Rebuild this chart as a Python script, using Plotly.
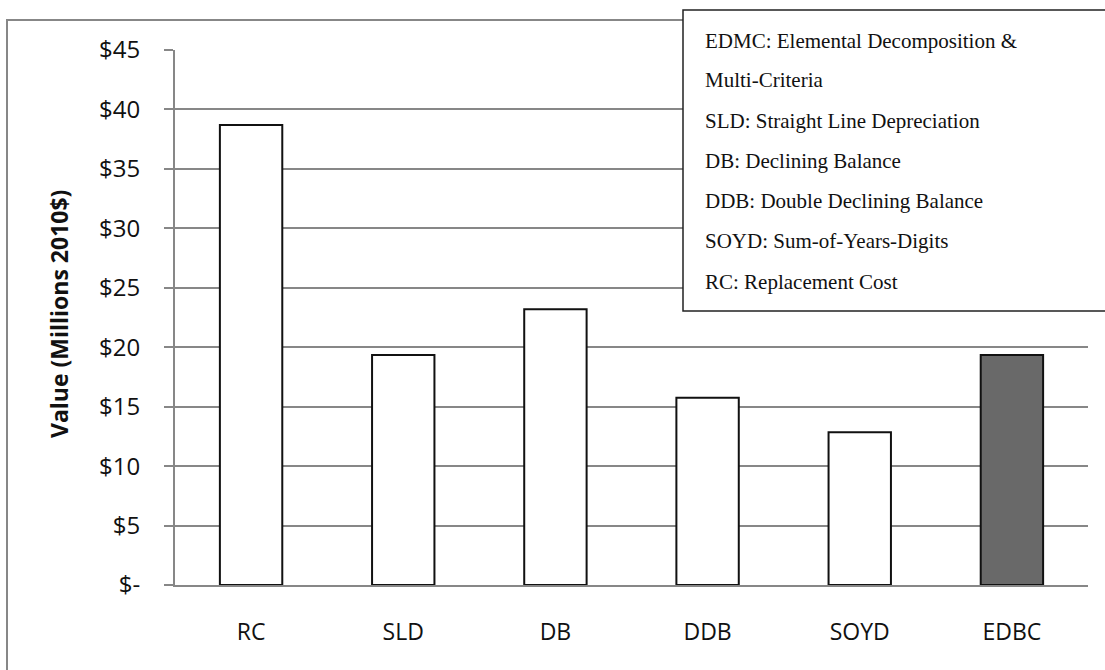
import plotly.graph_objects as go

# Asset value by valuation method (millions of 2010 dollars)
methods = ["RC", "SLD", "DB", "DDB", "SOYD", "EDBC"]
values = [38.7, 19.35, 23.2, 15.75, 12.85, 19.35]
bar_fills = ["#ffffff", "#ffffff", "#ffffff", "#ffffff", "#ffffff", "#696969"]

y_tick_vals = [0, 5, 10, 15, 20, 25, 30, 35, 40, 45]
y_tick_text = ["$-", "$5", "$10", "$15", "$20", "$25", "$30", "$35", "$40", "$45"]

legend_lines = [
    "EDMC: Elemental Decomposition &",
    "Multi-Criteria",
    "SLD: Straight Line Depreciation",
    "DB: Declining Balance",
    "DDB: Double Declining Balance",
    "SOYD: Sum-of-Years-Digits",
    "RC: Replacement Cost",
]

GRID = "#878787"
W, H = 1105, 670
ML, MR, MT, MB = 175, 17, 50, 85
PW, PH = W - ML - MR, H - MT - MB


def px_x(x):
    return (x - ML) / PW


def px_y(y):
    return (H - MB - y) / PH


fig = go.Figure(
    go.Bar(
        x=methods,
        y=values,
        marker=dict(color=bar_fills, line=dict(color="#111111", width=2)),
        width=0.41,
        hoverinfo="x+y",
    )
)

shapes = [
    # outer chart frame
    dict(type="rect", xref="paper", yref="paper",
         x0=px_x(7), x1=px_x(1115), y0=px_y(690), y1=px_y(20),
         line=dict(color=GRID, width=2), fillcolor="rgba(0,0,0,0)", layer="below"),
    # abbreviation key box
    dict(type="rect", xref="paper", yref="paper",
         x0=px_x(683), x1=px_x(1106), y0=px_y(311), y1=px_y(10),
         line=dict(color="#222222", width=1.5), fillcolor="#ffffff", layer="above"),
]

annotations = [
    dict(text="<b>Value (Millions 2010$)</b>", xref="paper", yref="paper",
         x=px_x(59), y=px_y(314), textangle=-90, showarrow=False,
         xanchor="center", yanchor="middle",
         font=dict(family="Open Sans", size=23, color="#111111")),
]

line_y = [41, 80, 121, 161, 201, 241, 282]
for txt, ly in zip(legend_lines, line_y):
    annotations.append(
        dict(text=txt, xref="paper", yref="paper", x=px_x(703), y=px_y(ly),
             xanchor="left", yanchor="middle", showarrow=False,
             font=dict(family="Liberation Serif", size=21, color="#111111"))
    )

fig.update_layout(
    width=W, height=H,
    margin=dict(l=ML, r=MR, t=MT, b=MB),
    paper_bgcolor="#ffffff",
    plot_bgcolor="#ffffff",
    showlegend=False,
    shapes=shapes,
    annotations=annotations,
    bargap=0.59,
    xaxis=dict(
        showgrid=False, showline=True, linecolor=GRID, linewidth=2,
        ticks="", ticklabelstandoff=25,
        tickfont=dict(family="Open Sans", size=23, color="#111111"),
    ),
    yaxis=dict(
        range=[0, 45], tickvals=y_tick_vals, ticktext=y_tick_text,
        showgrid=True, gridcolor=GRID, gridwidth=2, zeroline=False,
        showline=True, linecolor=GRID, linewidth=2,
        ticks="outside", ticklen=9, tickcolor=GRID, tickwidth=2,
        ticklabelstandoff=19,
        tickfont=dict(family="Open Sans", size=24, color="#111111"),
    ),
)

fig.write_html("out.html")
